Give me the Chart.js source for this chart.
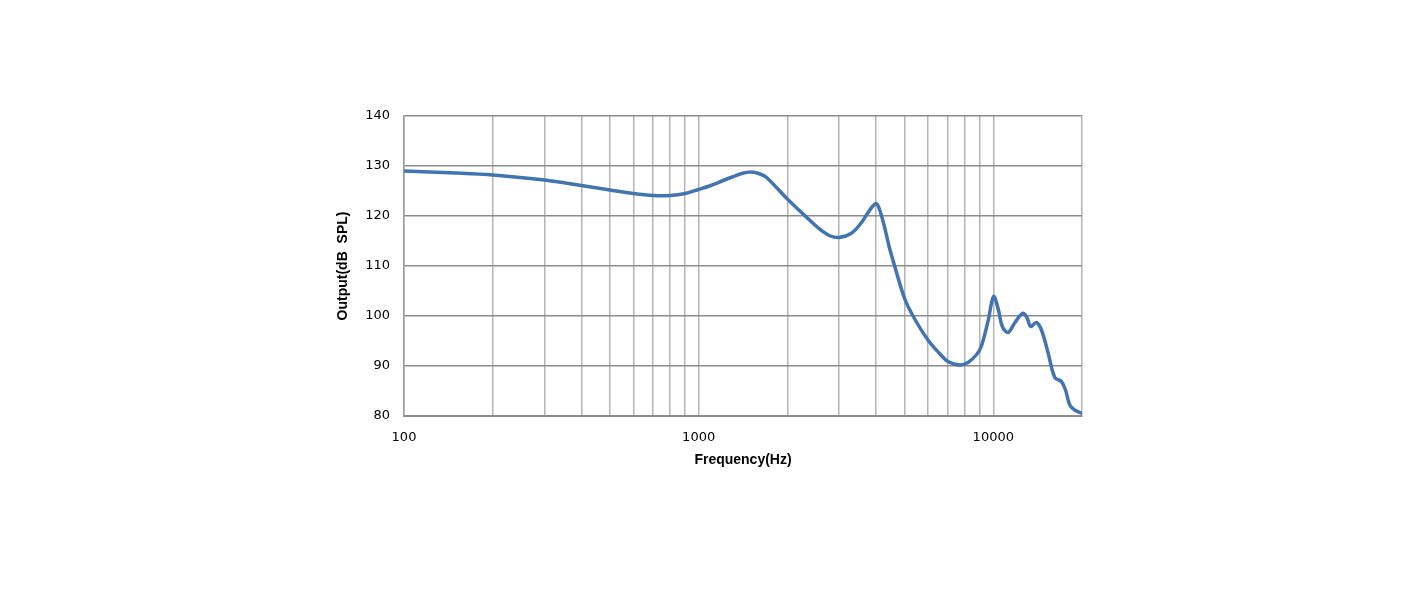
<!DOCTYPE html>
<html>
<head>
<meta charset="utf-8">
<script src="https://cdn.jsdelivr.net/npm/chart.js@4.4.1/dist/chart.umd.min.js"></script>
<style>
  html, body { margin: 0; padding: 0; background: #fff; }
  #wrap { width: 1418px; height: 591px; }
</style>
</head>
<body>
<div id="wrap"><canvas id="chart" width="1418" height="591"></canvas></div>
<script>
// данные кривой (частота, Гц -> уровень, дБ SPL)
const freqs = [100, 150, 200, 300, 400, 500, 600, 700, 800, 900,
  1000, 1100, 1200, 1300, 1400, 1500, 1600, 1700, 2000, 2460,
  2600, 2800, 3000, 3290, 3550, 3740, 3890, 4000, 4100, 4270,
  4430, 4610, 5000, 5400, 6000, 6570, 7015, 7680, 8200, 8750,
  9100, 9590, 10020, 10380, 10730, 11220, 11820, 12550, 12950, 13400,
  14000, 14570, 15350, 16170, 17030, 17580, 18180, 18900, 20000];
const spl = [129.0, 128.6, 128.2, 127.2, 126.1, 125.2, 124.5, 124.1, 124.1, 124.5,
  125.3, 126.1, 127.0, 127.8, 128.5, 128.8, 128.5, 127.7, 123.4, 118.4,
  117.2, 116.0, 115.7, 116.5, 118.5, 120.5, 121.9, 122.5, 121.5, 117.9,
  113.9, 110.3, 103.5, 99.5, 95.2, 92.5, 90.9, 90.2, 90.7, 92.2,
  93.9, 98.9, 103.9, 101.5, 97.9, 96.7, 98.6, 100.5, 99.9, 97.9,
  98.7, 97.2, 92.6, 87.7, 86.9, 85.2, 82.2, 81.2, 80.5];

const xTicks = [100, 200, 300, 400, 500, 600, 700, 800, 900,
  1000, 2000, 3000, 4000, 5000, 6000, 7000, 8000, 9000, 10000, 20000];
const xLabels = [100, 1000, 10000];
const yMin = 80, yMax = 140, yStep = 10;

const points = freqs.map((f, i) => ({ x: f, y: spl[i] }));

const ctx = document.getElementById('chart').getContext('2d');
new Chart(ctx, {
  type: 'line',
  data: {
    datasets: [{
      data: points,
      borderColor: '#4274b2',
      borderWidth: 3.5,
      pointRadius: 0,
      fill: false,
      tension: 0.35
    }]
  },
  options: {
    responsive: false,
    animation: false,
    layout: { padding: { left: 330, right: 336, top: 116, bottom: 115 } },
    plugins: { legend: { display: false }, tooltip: { enabled: false } },
    scales: {
      x: {
        type: 'logarithmic',
        min: 100,
        max: 20000,
        afterBuildTicks: scale => { scale.ticks = xTicks.map(v => ({ value: v })); },
        afterFit: scale => { scale.height = 60; },
        grid: { color: '#b4b4b4', lineWidth: 1.5, drawTicks: false },
        border: { color: '#8c8c8c', width: 2 },
        ticks: {
          autoSkip: false,
          maxRotation: 0,
          padding: 14,
          color: '#000',
          font: { family: 'DejaVu Sans', size: 13 },
          callback: v => xLabels.includes(v) ? String(v) : ''
        },
        title: {
          display: true,
          text: 'Frequency(Hz)',
          color: '#000',
          font: { family: 'Liberation Sans', size: 14, weight: 'bold' },
          padding: { top: 0, bottom: 7 }
        }
      },
      y: {
        min: yMin,
        max: yMax,
        afterFit: scale => { scale.width = 74; },
        grid: { color: '#8c8c8c', lineWidth: 1.5, drawTicks: false },
        border: { color: '#999', width: 1.5 },
        ticks: {
          stepSize: yStep,
          padding: 14,
          color: '#000',
          font: { family: 'DejaVu Sans', size: 13 }
        },
        title: {
          display: true,
          text: 'Output(dB  SPL)',
          color: '#000',
          font: { family: 'Liberation Sans', size: 14, weight: 'bold' },
          padding: { top: 5, bottom: 0 }
        }
      }
    }
  }
});
</script>
</body>
</html>
